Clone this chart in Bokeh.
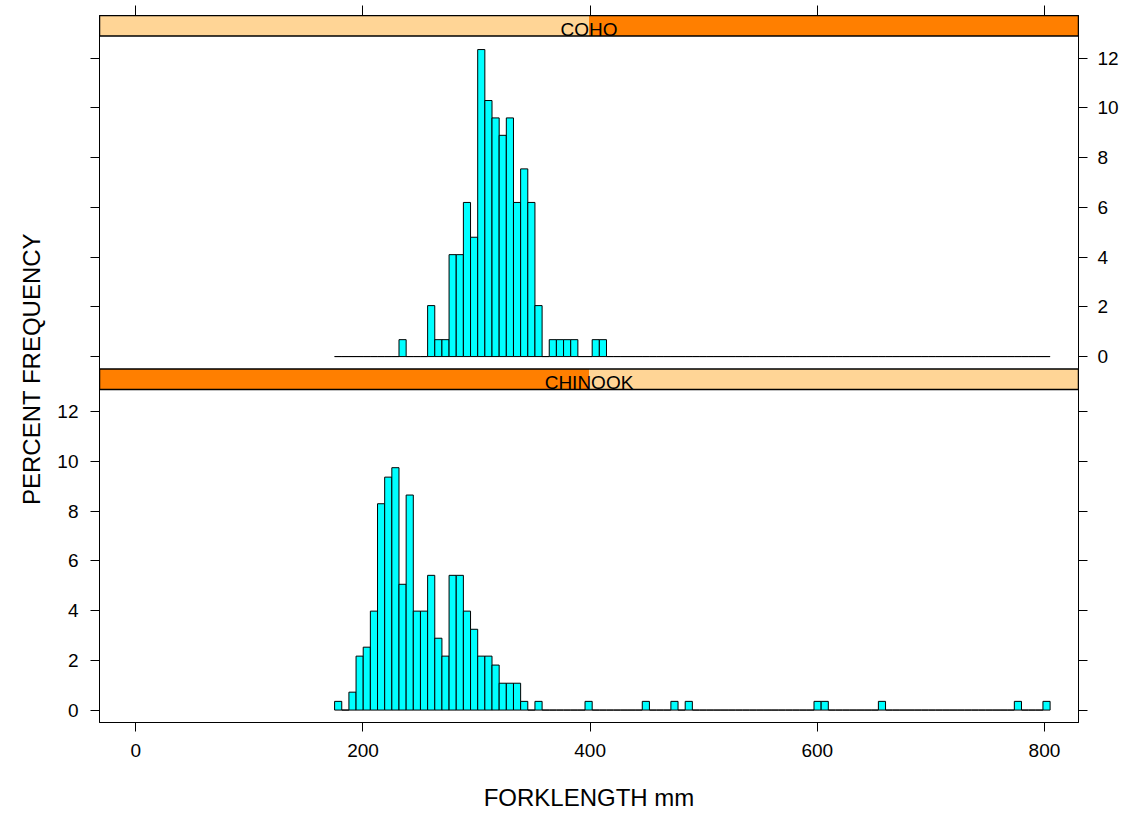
from bokeh.plotting import figure
from bokeh.models import FixedTicker, LinearAxis, CustomJSTickFormatter, Range1d, ColumnDataSource
from bokeh.core.properties import value
from bokeh.embed import file_html
from bokeh.resources import INLINE

# ---------------- data ----------------
BIN_START = 175.0      # mm, left edge of first histogram bin
BIN_WIDTH = 6.3        # mm
N_BINS = 100

# COHO: bin index -> percent frequency
coho_bins = [9, 13, 14, 15, 16, 17, 18, 19, 20, 21, 22, 23, 24, 25, 26, 27, 28, 30, 31, 32, 33, 36, 37]
coho_pct = [0.68, 2.05, 0.68, 0.68, 4.1, 4.1, 6.2, 4.8, 12.35, 10.3, 9.6, 8.9, 9.6, 6.2, 7.55, 6.2, 2.05,
            0.68, 0.68, 0.68, 0.68, 0.68, 0.68]

# CHINOOK: bin index -> percent frequency
chinook_bins = [0, 2, 3, 4, 5, 6, 7, 8, 9, 10, 11, 12, 13, 14, 15, 16, 17, 18, 19, 20, 21, 22, 23, 24, 25,
                26, 28, 35, 43, 47, 49, 67, 68, 76, 95, 99]
chinook_pct = [0.35, 0.72, 2.17, 2.53, 3.98, 8.3, 9.37, 9.75, 5.06, 8.65, 3.98, 3.98, 5.42, 2.89, 2.17, 5.42,
               5.42, 3.98, 3.25, 2.17, 2.17, 1.81, 1.08, 1.08, 1.08, 0.35, 0.35, 0.35, 0.35, 0.35, 0.35,
               0.35, 0.35, 0.35, 0.35, 0.35]

x_ticks = [0, 200, 400, 600, 800]
y_ticks = [0, 2, 4, 6, 8, 10, 12]
strip_labels = ["CHINOOK", "COHO"]   # bottom panel, top panel

# ---------------- layout constants ----------------
XLIM = (-32.0, 830.0)
YLIM = (-0.5, 12.9)
S = 0.82                          # strip height in y units
SPAN = YLIM[1] - YLIM[0]
O = SPAN + S                      # vertical offset of the top panel
Y_TOP = YLIM[1] + O + S
XMID = (XLIM[0] + XLIM[1]) / 2.0
PX = 707.0 / (Y_TOP - YLIM[0])    # pixels per y unit

FONT = "Liberation Sans"
CYAN = "#00FFFF"
LIGHT = "#FFD596"
DARK = "#FF7F00"

p = figure(width=1122, height=813,
           x_range=Range1d(*XLIM), y_range=Range1d(YLIM[0], Y_TOP),
           output_backend="svg", toolbar_location=None,
           x_axis_location=None, y_axis_location=None,
           min_border_left=99, min_border_right=44, min_border_top=15, min_border_bottom=91)
p.xgrid.visible = False
p.ygrid.visible = False
p.outline_line_color = "black"
p.outline_line_width = 1
p.background_fill_color = "white"
p.border_fill_color = "white"


def style_axis(ax, standoff=12):
    ax.major_tick_out = 9
    ax.major_tick_in = 0
    ax.minor_tick_out = 9
    ax.minor_tick_in = 0
    ax.major_tick_line_color = "black"
    ax.minor_tick_line_color = "black"
    ax.axis_line_color = "black"
    ax.major_label_text_font = FONT
    ax.major_label_text_font_size = "19px"
    ax.major_label_text_color = "black"
    ax.major_label_standoff = standoff
    ax.axis_label_text_font = FONT
    ax.axis_label_text_font_size = "24px"
    ax.axis_label_text_font_style = "normal"
    ax.axis_label_text_color = "black"


bottom_ax = LinearAxis(ticker=FixedTicker(ticks=x_ticks, minor_ticks=[]), axis_label="FORKLENGTH mm")
style_axis(bottom_ax)
bottom_ax.axis_label_standoff = 24
p.add_layout(bottom_ax, "below")

# top axis: ticks only (drawn as minor ticks, so there are no labels)
top_ax = LinearAxis(ticker=FixedTicker(ticks=[], minor_ticks=x_ticks))
style_axis(top_ax, standoff=0)
top_ax.minor_tick_out = 10
p.add_layout(top_ax, "above")

bottom_panel_ticks = [float(t) for t in y_ticks]
top_panel_ticks = [t + O for t in y_ticks]

# left: labels for bottom panel, bare ticks for top panel
left_ax = LinearAxis(ticker=FixedTicker(ticks=bottom_panel_ticks, minor_ticks=top_panel_ticks),
                     formatter=CustomJSTickFormatter(code="return tick.toFixed(0);"),
                     axis_label="PERCENT FREQUENCY")
style_axis(left_ax)
left_ax.axis_label_standoff = 9
p.add_layout(left_ax, "left")

# right: labels for top panel, bare ticks for bottom panel
right_ax = LinearAxis(ticker=FixedTicker(ticks=top_panel_ticks, minor_ticks=bottom_panel_ticks),
                      formatter=CustomJSTickFormatter(args=dict(o=O), code="return (tick - o).toFixed(0);"))
style_axis(right_ax, standoff=10)
p.add_layout(right_ax, "right")


def panel_source(bins, pct, offset):
    heights = [0.0] * N_BINS
    for b, v in zip(bins, pct):
        heights[b] = v
    left = [BIN_START + BIN_WIDTH * k for k in range(N_BINS)]
    right = [l + BIN_WIDTH for l in left]
    return ColumnDataSource(dict(left=left, right=right,
                                 bottom=[offset] * N_BINS,
                                 top=[h + offset for h in heights]))


for bins, pct, off in [(chinook_bins, chinook_pct, 0.0), (coho_bins, coho_pct, O)]:
    src = panel_source(bins, pct, off)
    p.quad(left="left", right="right", bottom="bottom", top="top", source=src,
           fill_color=CYAN, line_color="black", line_width=1)

# strips
for i, lab in enumerate(strip_labels):
    y0 = YLIM[1] + i * O
    y1 = y0 + S
    if i == 0:   # level 1: left half marked
        p.quad(left=[XLIM[0]], right=[XMID], bottom=[y0], top=[y1], fill_color=DARK, line_color=None)
        p.quad(left=[XMID], right=[XLIM[1]], bottom=[y0], top=[y1], fill_color=LIGHT, line_color=None)
    else:        # level 2: right half marked
        p.quad(left=[XLIM[0]], right=[XMID], bottom=[y0], top=[y1], fill_color=LIGHT, line_color=None)
        p.quad(left=[XMID], right=[XLIM[1]], bottom=[y0], top=[y1], fill_color=DARK, line_color=None)
    p.quad(left=[XLIM[0]], right=[XLIM[1]], bottom=[y0], top=[y1], fill_color=None,
           line_color="black", line_width=1.5)
    p.text(x=[XMID], y=[y0 - 4.0 / PX], text=[lab], text_font=value(FONT), text_font_size="19px",
           text_align="center", text_baseline="bottom", text_color="black")

open("out.html", "w").write(file_html(p, INLINE))
